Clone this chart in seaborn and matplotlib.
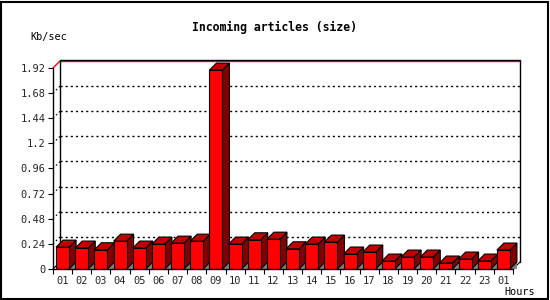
import numpy as np
import pandas as pd
import matplotlib
matplotlib.use("Agg")
import matplotlib.pyplot as plt
import seaborn as sns
from matplotlib.patches import Polygon, Rectangle

# ---------------- data ----------------
hour_labels = ["01", "02", "03", "04", "05", "06", "07", "08", "09", "10", "11", "12",
               "13", "14", "15", "16", "17", "18", "19", "20", "21", "22", "23", "01"]
kb_per_sec = [0.209, 0.200, 0.184, 0.266, 0.200, 0.238, 0.247, 0.266, 1.900, 0.238, 0.279, 0.285,
              0.193, 0.238, 0.257, 0.143, 0.162, 0.076, 0.114, 0.114, 0.057, 0.095, 0.076, 0.181]
y_ticks = [0, 0.24, 0.48, 0.72, 0.96, 1.2, 1.44, 1.68, 1.92]
y_tick_labels = ["0", "0.24", "0.48", "0.72", "0.96", "1.2", "1.44", "1.68", "1.92"]
title_text = "Incoming articles (size)"
y_unit = "Kb/sec"
x_unit = "Hours"

# ---------------- style ----------------
sns.set_style("white")
plt.rcParams["font.family"] = ["DejaVu Sans Mono", "DejaVu Sans"]

W, H = 550, 300
fig = plt.figure(figsize=(W / 100, H / 100), dpi=100)
fig.patch.set_facecolor("white")
ax = fig.add_axes([53 / W, 31 / H, 460 / W, 201 / H])
ax.set_facecolor("none")

df = pd.DataFrame({"slot": list(range(len(kb_per_sec))), "value": kb_per_sec})
sns.barplot(data=df, x="slot", y="value", color="#FF0000", saturation=1, width=0.68,
            edgecolor="black", linewidth=0.8, ax=ax, zorder=4)

n = len(kb_per_sec)
ymax = y_ticks[-1]
ax.set_xlim(-0.5, n - 0.5)
ax.set_ylim(0, ymax)
ax.set_xlabel("")
ax.set_ylabel("")

# depth of the pseudo-3D effect: 7 px right, 7 px up, converted to data units
bb = ax.get_window_extent()
depth_px = 7
dx = depth_px * n / bb.width
dy = depth_px * ymax / bb.height
py = ymax / bb.height  # one pixel in y data units

xl, xr = -0.5, n - 0.5

# back wall grid lines (dotted) and left-wall diagonals
for t in y_ticks[1:-1]:
    ax.plot([xl + dx, xr + dx], [t + dy, t + dy], color="black", lw=1.0,
            dashes=(1.5, 2.2), clip_on=False, zorder=1)
    ax.plot([xl, xl + dx], [t, t + dy], color="black", lw=0.8,
            dashes=(1.5, 2.2), clip_on=False, zorder=1)
# top line in red
ax.plot([xl + dx, xr + dx], [ymax + dy, ymax + dy], color="#FF0000", lw=1.0, clip_on=False, zorder=2)
ax.plot([xl, xl + dx], [ymax, ymax + dy], color="#FF0000", lw=1.0, clip_on=False, zorder=2)
# back plane frame
ax.plot([xl + dx, xl + dx, xr + dx, xr + dx],
        [dy, ymax + dy + py, ymax + dy + py, dy], color="black", lw=1.0, clip_on=False, zorder=2)
# floor side edges
ax.plot([xl, xl + dx], [0, dy], color="black", lw=0.8, clip_on=False, zorder=2)
ax.plot([xr, xr + dx], [0, dy], color="black", lw=0.8, clip_on=False, zorder=2)

# 3D faces of each bar
for p in list(ax.patches):
    x0 = p.get_x()
    x1 = x0 + p.get_width()
    h = p.get_height()
    shadow = Polygon([(x1, 0), (x1 + dx, dy), (x1 + dx, 0)], closed=True,
                     facecolor="#808080", edgecolor="none", clip_on=False, zorder=2.5)
    side = Polygon([(x1, 0), (x1 + dx, dy), (x1 + dx, h + dy), (x1, h)], closed=True,
                   facecolor="#800000", edgecolor="black", lw=0.8, clip_on=False, zorder=3)
    top = Polygon([(x0, h), (x1, h), (x1 + dx, h + dy), (x0 + dx, h + dy)], closed=True,
                  facecolor="#C00000", edgecolor="black", lw=0.8, clip_on=False, zorder=3)
    ax.add_patch(shadow)
    ax.add_patch(side)
    ax.add_patch(top)

# spines
for s in ["top", "right"]:
    ax.spines[s].set_visible(False)
for s in ["left", "bottom"]:
    ax.spines[s].set_color("black")
    ax.spines[s].set_linewidth(1.0)
    ax.spines[s].set_zorder(5)

# y ticks
ax.set_yticks(y_ticks)
ax.set_yticklabels(y_tick_labels)
ax.tick_params(axis="y", which="major", length=3.6, width=0.8, color="black",
               direction="out", labelsize=7.5, pad=2, left=True)

# x ticks: marks at slot boundaries, labels at slot centers
ax.set_xticks(np.arange(-0.5, n, 1.0))
ax.set_xticklabels([])
ax.set_xticks(np.arange(n), minor=True)
ax.set_xticklabels(hour_labels, minor=True)
ax.tick_params(axis="x", which="major", length=3.6, width=0.8, color="black",
               direction="out", bottom=True)
ax.tick_params(axis="x", which="minor", length=0, labelsize=7.5, pad=5, bottom=True)

# texts
fig.text(274 / W, 1 - 27 / H, title_text, ha="center", va="center",
         fontsize=8.3, fontweight="bold", color="black")
fig.text(30 / W, 1 - 37 / H, y_unit, ha="left", va="center", fontsize=7.3, color="black")
fig.text(504 / W, 1 - 292 / H, x_unit, ha="left", va="center", fontsize=7.3, color="black")

# image frame
fig.patches.append(Rectangle((1 / W, 1 / H), 547 / W, 297 / H, transform=fig.transFigure,
                             fill=False, edgecolor="black", lw=1.5))

fig.savefig("out.png", dpi=100)
